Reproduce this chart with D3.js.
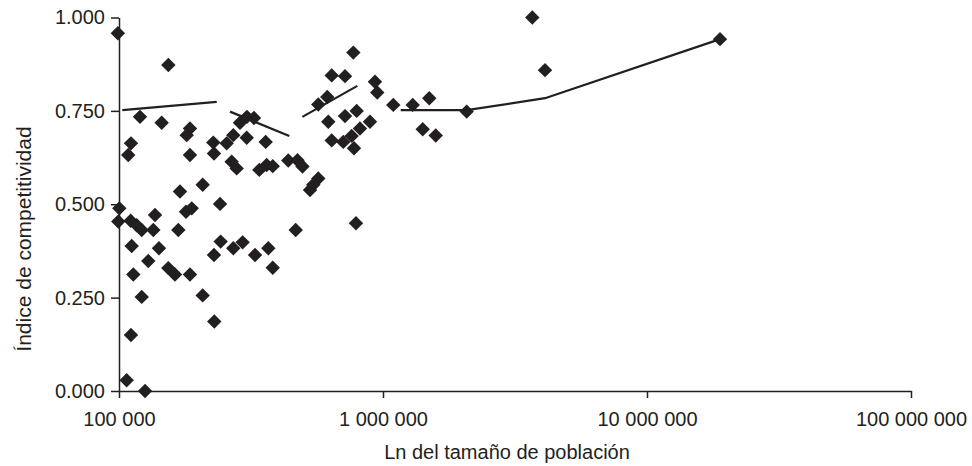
<!DOCTYPE html>
<html>
<head>
<meta charset="utf-8">
<script src="https://cdn.jsdelivr.net/npm/d3@7"></script>
<style>
  body { margin: 0; background: #fff; }
  text { font-family: "Liberation Sans", Arial, sans-serif; fill: #231f20; }
  .axis path, .axis line { stroke: #231f20; stroke-width: 1.5; }
  .axis text { font-size: 20px; }
  .axis-label { font-size: 20px; }
</style>
</head>
<body>
<script>

// Data: population (x) and competitiveness index (y)
var poblacion = [
  99000, 100300, 99400, 110700, 116700, 121900, 134900, 136900, 167800, 179400,
  188600, 111700, 141700, 129100, 113300, 153700, 162900, 185700, 170200, 121900,
  207500, 111000, 106900, 125500, 229600, 229000, 241400, 242700, 271000, 294000,
  327500, 367800, 382300, 467000, 790000, 207500,
  153800, 120100, 145100, 111000, 108400, 185700, 180500, 185700, 227600, 229000,
  255800, 271000, 287300, 305200, 324500, 304600, 359400, 267200, 279100, 340000,
  362500, 382300, 437700, 474300, 495500, 544500, 568700, 529100,
  772000, 639300, 718000, 932600, 951000, 1094000, 615000, 568700, 620600, 718000,
  794800, 892700, 818000, 761000, 707300, 639300, 776500, 1296000, 1497000, 2075000,
  1414000, 1584000, 3677000, 4108000, 18900000
];
var indice = [
  0.958, 0.489, 0.454, 0.456, 0.444, 0.431, 0.431, 0.471, 0.431, 0.480,
  0.489, 0.388, 0.382, 0.348, 0.312, 0.329, 0.312, 0.312, 0.534, 0.252,
  0.256, 0.150, 0.029, 0.000, 0.186, 0.364, 0.501, 0.400, 0.382, 0.398,
  0.364, 0.382, 0.330, 0.431, 0.449, 0.552,
  0.873, 0.734, 0.718, 0.663, 0.632, 0.703, 0.685, 0.632, 0.665, 0.636,
  0.663, 0.685, 0.718, 0.734, 0.731, 0.678, 0.667, 0.614, 0.596, 0.592,
  0.605, 0.602, 0.617, 0.618, 0.601, 0.552, 0.569, 0.538,
  0.906, 0.845, 0.843, 0.828, 0.799, 0.766, 0.787, 0.767, 0.721, 0.736,
  0.750, 0.721, 0.703, 0.683, 0.667, 0.671, 0.650, 0.766, 0.784, 0.748,
  0.701, 0.684, 1.000, 0.859, 0.942
];

// Trend segments
var tendenciaX = [
  [102900, 234500],
  [263300, 441600],
  [495000, 799400],
  [1167000, 2075000, 4109000, 18920000]
];
var tendenciaY = [
  [0.752, 0.774],
  [0.748, 0.683],
  [0.734, 0.817],
  [0.752, 0.752, 0.784, 0.942]
];

var xTicks = [100000, 1000000, 10000000, 100000000];
var yTicks = [0, 0.25, 0.5, 0.75, 1];

// SVG Size
var margin = {top: 17.5, right: 61, bottom: 75, left: 119};
var width = 972 - margin.left - margin.right;
var height = 466 - margin.top - margin.bottom;

var svg = d3.select("body").append("svg")
  .attr("width", 972)
  .attr("height", 466)
  .append("g")
  .attr("transform", "translate(" + margin.left + "," + margin.top + ")");

var x = d3.scaleLog()
  .domain([100000, 100000000])
  .range([0, width]);

var y = d3.scaleLinear()
  .domain([0, 1])
  .range([height, 0]);

var es = d3.formatLocale({decimal: ".", thousands: " ", grouping: [3], currency: ["", ""]});

var xAxis = d3.axisBottom(x)
  .tickValues(xTicks)
  .tickFormat(es.format(",d"))
  .tickSizeInner(7).tickSizeOuter(0)
  .tickPadding(14);

var yAxis = d3.axisLeft(y)
  .tickValues(yTicks)
  .tickFormat(d3.format(".3f"))
  .tickSizeInner(8).tickSizeOuter(0)
  .tickPadding(6);

svg.append("g")
  .attr("class", "axis x-axis")
  .attr("transform", "translate(0," + height + ")")
  .call(xAxis);

svg.append("g")
  .attr("class", "axis y-axis")
  .call(yAxis);

svg.selectAll(".axis text").attr("fill", "#231f20");

// Axis labels
svg.append("text")
  .attr("class", "axis-label")
  .attr("text-anchor", "middle")
  .attr("x", 388)
  .attr("y", height + 68)
  .text("Ln del tamaño de población");

svg.append("text")
  .attr("class", "axis-label")
  .attr("text-anchor", "middle")
  .style("font-size", "21px")
  .attr("transform", "translate(" + (31 - margin.left) + "," + (239 - margin.top) + ") rotate(-90)")
  .text("Índice de competitividad");

// Trend lines
var line = d3.line()
  .x(function(d) { return x(d[0]); })
  .y(function(d) { return y(d[1]); });

var segmentos = tendenciaX.map(function(xs, i) {
  return xs.map(function(v, j) { return [v, tendenciaY[i][j]]; });
});

svg.selectAll(".tendencia")
  .data(segmentos)
  .enter()
  .append("path")
  .attr("class", "tendencia")
  .attr("d", line)
  .attr("fill", "none")
  .attr("stroke", "#231f20")
  .attr("stroke-width", 2.2);

// Points (diamonds)
var puntos = poblacion.map(function(p, i) { return {pob: p, ind: indice[i]}; });
var diamante = d3.symbol().type(d3.symbolSquare).size(104);

svg.selectAll(".punto")
  .data(puntos)
  .enter()
  .append("path")
  .attr("class", "punto")
  .attr("d", diamante)
  .attr("transform", function(d) {
    return "translate(" + x(d.pob) + "," + y(d.ind) + ") rotate(45)";
  })
  .attr("fill", "#231f20");

</script>
</body>
</html>
